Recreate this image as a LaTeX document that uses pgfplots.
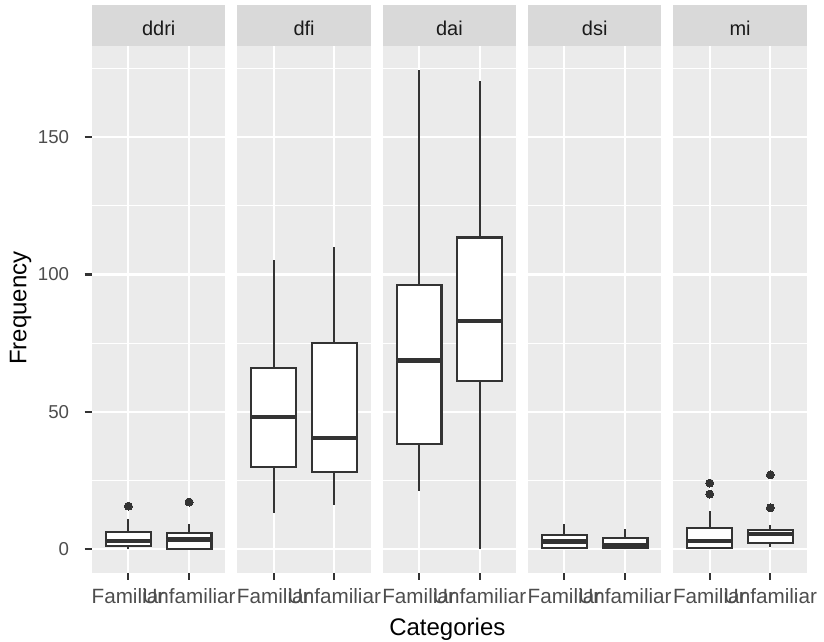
\documentclass[border=0pt]{standalone}
\usepackage{fontspec}
\setmainfont{Liberation Sans}
\usepackage{pgfplots}
\pgfplotsset{compat=1.18}
\usepgfplotslibrary{statistics}
\definecolor{bg}{HTML}{EBEBEB}
\definecolor{stripc}{HTML}{D9D9D9}
\definecolor{g20}{HTML}{333333}
\definecolor{g30}{HTML}{4D4D4D}
\definecolor{g10}{HTML}{1A1A1A}
\pgfplotsset{
  panel/.style={
    scale only axis, width=100.1pt, height=394.9pt,
    anchor=south west,
    xmin=0.4, xmax=2.6, ymin=-8.6, ymax=183.3,
    axis background/.style={fill=bg},
    axis x line*=bottom, axis y line*=left,
    axis line style={draw=none},
    xtick={1,2}, xticklabels={Familiar,Unfamiliar},
    ytick={0,50,100,150}, minor ytick={25,75,125,175},
    xmajorgrids, ymajorgrids, yminorgrids,
    major grid style={white, line width=1.6pt},
    minor grid style={white, line width=0.8pt},
    tick align=outside, major tick length=5.5pt, minor tick length=0pt,
    tick style={g20, line width=1.6pt},
    /pgf/number format/assume math mode=true,
    xticklabel style={font=\fontsize{15.5}{15.5}\selectfont, text=g30, anchor=base, yshift=-17.4pt},
    boxplot/draw direction=y,
    clip=false,
  },
  noy/.style={yticklabels={}, ytick style={draw=none}},
  bp/.style={draw=g20, fill=white, line width=1.6pt,
    boxplot/every median/.style={line width=3.2pt},
    mark=*, mark size=3pt, mark options={fill=g20, draw=g20, line width=0pt}},
}
\newcommand{\strip}[1]{%
  \fill[stripc] (rel axis cs:0,1) rectangle ([yshift=30.75pt]rel axis cs:1,1);
  \node[font=\fontsize{15}{15}\selectfont, text=g10] at ([yshift=13.6pt]rel axis cs:0.5,1) {#1};}
\begin{document}
\begin{tikzpicture}
\useasboundingbox (0,0) rectangle (618pt,481.5pt);
% ddri
\begin{axis}[panel, at={(69pt,52.1pt)},
  yticklabels={0,50,100,150},
  yticklabel style={font=\fontsize{14}{14}\selectfont, text=g30, anchor=east, inner sep=0pt, xshift=-11.5pt}]
\addplot[bp, boxplot prepared={draw position=1, lower whisker=0, lower quartile=1.0, median=2.8, upper quartile=6.3, upper whisker=10.8, box extend=0.74, whisker extend=0}] coordinates {(1,15.6)};
\addplot[bp, boxplot prepared={draw position=2, lower whisker=0, lower quartile=0, median=3.4, upper quartile=5.7, upper whisker=9.0, box extend=0.74, whisker extend=0}] coordinates {(2,17.1)};
\strip{ddri}
\end{axis}
% dfi
\begin{axis}[panel, noy, at={(178pt,52.1pt)}]
\addplot[bp, boxplot prepared={draw position=1, lower whisker=13, lower quartile=30, median=48, upper quartile=66, upper whisker=105.2, box extend=0.74, whisker extend=0}] coordinates {};
\addplot[bp, boxplot prepared={draw position=2, lower whisker=16, lower quartile=28.1, median=40.3, upper quartile=75.2, upper whisker=110, box extend=0.74, whisker extend=0}] coordinates {};
\strip{dfi}
\end{axis}
% dai
\begin{axis}[panel, noy, at={(287pt,52.1pt)}]
\addplot[bp, boxplot prepared={draw position=1, lower whisker=21, lower quartile=38.3, median=68.7, upper quartile=96.1, upper whisker=174.7, box extend=0.74, whisker extend=0}] coordinates {};
\addplot[bp, boxplot prepared={draw position=2, lower whisker=0, lower quartile=61.3, median=83.1, upper quartile=113.5, upper whisker=170.4, box extend=0.74, whisker extend=0}] coordinates {};
\strip{dai}
\end{axis}
% dsi
\begin{axis}[panel, noy, at={(396pt,52.1pt)}]
\addplot[bp, boxplot prepared={draw position=1, lower whisker=0.4, lower quartile=0.4, median=2.7, upper quartile=5.1, upper whisker=9, box extend=0.74, whisker extend=0}] coordinates {};
\addplot[bp, boxplot prepared={draw position=2, lower whisker=0.4, lower quartile=0.4, median=1.5, upper quartile=3.9, upper whisker=7.2, box extend=0.74, whisker extend=0}] coordinates {};
\strip{dsi}
\end{axis}
% mi
\begin{axis}[panel, noy, at={(505pt,52.1pt)}]
\addplot[bp, boxplot prepared={draw position=1, lower whisker=0.4, lower quartile=0.4, median=2.8, upper quartile=7.6, upper whisker=14, box extend=0.74, whisker extend=0}] coordinates {(1,20) (1,24)};
\addplot[bp, boxplot prepared={draw position=2, lower whisker=0.7, lower quartile=2.3, median=5.5, upper quartile=7.0, upper whisker=8.9, box extend=0.74, whisker extend=0}] coordinates {(2,15) (2,27)};
\strip{mi}
\end{axis}
\node[rotate=90, font=\fontsize{18}{18}\selectfont, text=black] at (15.4pt,250.5pt) {Frequency};
\node[anchor=base, font=\fontsize{18}{18}\selectfont, text=black] at (335.5pt,5pt) {Categories};
\end{tikzpicture}
\end{document}
